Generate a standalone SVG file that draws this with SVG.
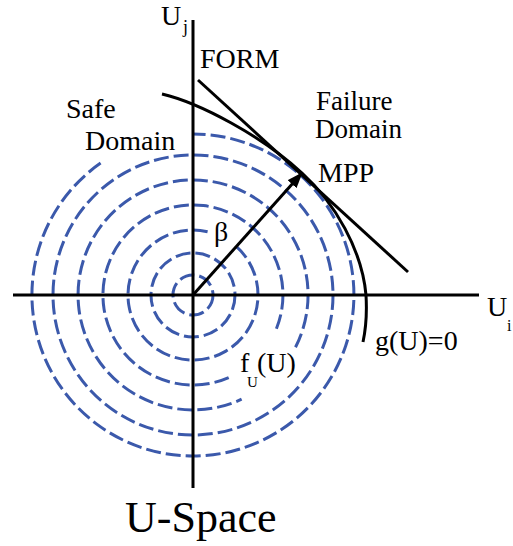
<svg xmlns="http://www.w3.org/2000/svg" width="513" height="546" viewBox="0 0 513 546">
<style>
.c{fill:none;stroke:#3b59ab;stroke-width:3;stroke-dasharray:15 5}
.k{fill:none;stroke:#000;stroke-width:3}
.a{font-family:"Liberation Serif","Times New Roman",serif;fill:#000}
</style>
<defs>
<marker id="ah" viewBox="0 0 16 12" refX="15" refY="6" markerWidth="16" markerHeight="12" markerUnits="userSpaceOnUse" orient="auto">
<path d="M0,0 L16,6 L0,12 Z" fill="#000"/>
</marker>
</defs>
<rect width="513" height="546" fill="#fff"/>
<g id="contours">
<circle class="c" cx="193" cy="295" r="20"/>
<circle class="c" cx="193" cy="295" r="42"/>
<path class="c" d="M207.6,231.7 A65,65 0 1 0 233,243.8"/>
<path class="c" d="M276.4,328.7 A90,90 0 1 0 229.6,377.2"/>
<path class="c" d="M295.5,347.2 A115,115 0 1 0 241.6,399.2"/>
<circle class="c" cx="193" cy="295" r="140"/>
<path class="c" d="M100.6,163.1 A161,161 0 1 0 193,134"/>
</g>
<g id="connectors">
<line class="k" x1="13" y1="295" x2="479" y2="295"/>
<line class="k" x1="193" y1="20" x2="193" y2="488"/>
<line class="k" x1="198" y1="80" x2="408" y2="272"/>
<path class="k" d="M162,94 C200,103 262,136 302,173 C335,203 362,250 366,295 C367,312 366,328 363,342"/>
<line class="k" x1="193" y1="295" x2="302" y2="173" marker-end="url(#ah)"/>
</g>
<g id="labels">
<text class="a" x="161" y="25" font-size="28">U</text>
<text class="a" x="183" y="33" font-size="18">j</text>
<text class="a" x="200" y="68" font-size="28">FORM</text>
<text class="a" x="316" y="110" font-size="27">Failure</text>
<text class="a" x="315" y="138" font-size="27">Domain</text>
<text class="a" x="66" y="118" font-size="28">Safe</text>
<text class="a" x="85" y="150" font-size="28">Domain</text>
<text class="a" x="318" y="182" font-size="28">MPP</text>
<text class="a" x="214" y="241" font-size="28">β</text>
<text class="a" x="487" y="316" font-size="28">U</text>
<text class="a" x="507" y="331" font-size="16">i</text>
<text class="a" x="375" y="350" font-size="28">g(U)=0</text>
<text class="a" x="240" y="372" font-size="28">f</text>
<text class="a" x="247" y="387" font-size="15">U</text>
<text class="a" x="257" y="372" font-size="28">(U)</text>
<text class="a" x="125" y="532" font-size="44">U-Space</text>
</g>
</svg>
